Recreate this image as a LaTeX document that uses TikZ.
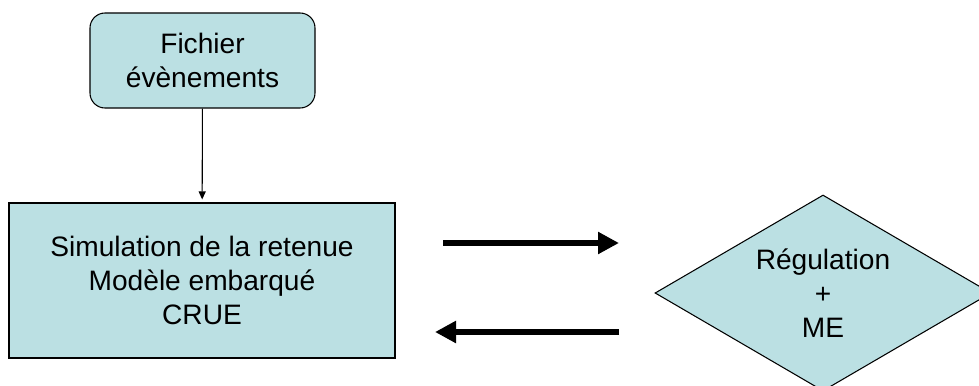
\documentclass[tikz,border=0pt]{standalone}
\usepackage{fontspec}
\setmainfont{Liberation Sans}
\usetikzlibrary{shapes.geometric,arrows.meta}
\definecolor{boxblue}{RGB}{187,224,227}

\begin{document}
\begin{tikzpicture}[
    block/.style={draw=black, fill=boxblue, line width=0.6pt, align=center,
      font=\fontsize{16}{19.2}\selectfont},
    event/.style={block, rounded corners=0.3cm, minimum width=4.5cm, minimum height=1.9cm},
    simbox/.style={block, minimum width=7.72cm, minimum height=3.1cm},
    decision/.style={block, diamond, shape aspect=1.7, inner sep=0pt,
      minimum width=6.72cm, minimum height=3.92cm},
    flow/.style={-{Triangle[length=0.42cm, width=0.42cm]}, line width=0.13cm}]
  \clip (0,0) rectangle (19.58,7.7);
  % Blocks
  \node[event]    (fich) at (4.05,6.49)  {Fichier\\évènements};
  \node[simbox]   (sim)  at (4.04,2.09)  {Simulation de la retenue\\Modèle embarqué\\CRUE};
  \node[decision] (reg)  at (16.46,1.84) {Régulation\\+\\ME};
  % Free ends of the exchange arrows
  \coordinate (goL)   at (8.86,2.84);
  \coordinate (goR)   at (12.38,2.84);
  \coordinate (backR) at (12.38,1.06);
  \coordinate (backL) at (8.70,1.06);
  % Input file to simulation
  \draw[-{Triangle[length=0.16cm, width=0.14cm]}, line width=0.6pt, shorten >=0.06cm] (fich) -- (sim);
  % Simulation <-> regulation
  \draw[flow] (goL) -- (goR);
  \draw[flow] (backR) -- (backL);
\end{tikzpicture}
\end{document}
